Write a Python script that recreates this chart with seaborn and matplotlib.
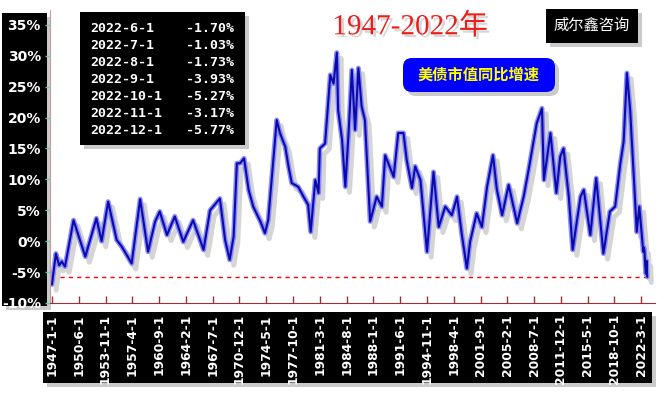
import matplotlib
matplotlib.use("Agg")
import matplotlib.pyplot as plt
import matplotlib.patheffects as pe
import matplotlib.transforms as mtransforms
from matplotlib.patches import FancyBboxPatch
import pandas as pd
import seaborn as sns

# values (month, yoy %)
dates = ["1947-1", "1947-7", "1947-12", "1948-4", "1948-9", "1949-10", "1951-4", "1952-9",
         "1953-5", "1954-3", "1955-4", "1955-12", "1957-3", "1958-4", "1959-4", "1960-3",
         "1960-10", "1961-9", "1962-9", "1963-10", "1965-1", "1966-5", "1967-3", "1968-6",
         "1969-2", "1969-9", "1970-3", "1970-8", "1971-1", "1971-7", "1972-2", "1972-9",
         "1973-8", "1974-3", "1974-8", "1975-9", "1976-2", "1976-10", "1977-3", "1977-8",
         "1978-6", "1979-2", "1979-9", "1980-1", "1980-8", "1981-1", "1981-3", "1981-11",
         "1982-7", "1982-12", "1983-5", "1983-7", "1984-1", "1984-6", "1984-11", "1985-4",
         "1985-9", "1986-2", "1986-7", "1986-12", "1987-8", "1988-6", "1989-2", "1989-7",
         "1990-8", "1991-3", "1991-11", "1992-4", "1992-12", "1993-5", "1994-1", "1994-11",
         "1995-9", "1996-5", "1997-3", "1998-1", "1998-9", "1999-4", "1999-12", "2000-5",
         "2001-3", "2001-11", "2002-7", "2003-4", "2003-10", "2004-6", "2005-4", "2005-12",
         "2006-5", "2007-3", "2007-11", "2008-11", "2009-7", "2009-10", "2010-8", "2011-5",
         "2011-11", "2012-4", "2012-12", "2013-6", "2014-6", "2014-11", "2015-9", "2016-6",
         "2017-5", "2018-3", "2018-11", "2019-7", "2019-12", "2020-5", "2020-10", "2021-6",
         "2021-8", "2021-12", "2022-6", "2022-7", "2022-8", "2022-9", "2022-10", "2022-11",
         "2022-12"]
values = [-7.0, -2.0, -3.9, -3.3, -4.1, 3.4, -2.5, 3.7,
          0.0, 6.4, 0.2, -0.9, -3.6, 6.8, -1.7, 3.2,
          4.8, 1.0, 4.0, -0.1, 3.4, -1.4, 5.0, 6.9,
          0.2, -3.0, 0.7, 12.6, 12.6, 13.4, 8.3, 5.6,
          3.2, 1.3, 3.4, 19.6, 17.5, 15.3, 12.1, 9.4,
          8.8, 7.2, 5.9, 1.5, 9.9, 7.8, 15.0, 15.8,
          26.9, 25.5, 30.5, 21.2, 16.4, 8.8, 17.5, 27.7,
          18.0, 28.0, 21.8, 19.6, 3.2, 7.2, 5.6, 13.9,
          10.4, 17.5, 17.5, 13.1, 8.6, 12.1, 9.9, -1.7,
          11.2, 2.3, 5.6, 4.2, 7.2, 1.3, -4.4, -0.1,
          4.5, 2.3, 8.8, 13.9, 8.3, 4.2, 9.1, 5.3,
          2.9, 7.2, 11.8, 19.1, 21.5, 9.9, 17.5, 7.8,
          13.7, 15.0, 7.2, -1.4, 7.2, 8.3, 1.0, 10.2,
          -2.0, 4.8, 5.6, 12.6, 16.1, 27.2, 21.2, 5.6,
          1.5, 5.6, -1.70, -1.03, -1.73, -3.93, -5.27, -3.17,
          -5.77]

tick_labels = ["1947-1-1", "1950-6-1", "1953-11-1", "1957-4-1", "1960-9-1", "1964-2-1",
               "1967-7-1", "1970-12-1", "1974-5-1", "1977-10-1", "1981-3-1", "1984-8-1",
               "1988-1-1", "1991-6-1", "1994-11-1", "1998-4-1", "2001-9-1", "2005-2-1",
               "2008-7-1", "2011-12-1", "2015-5-1", "2018-10-1", "2022-3-1"]
y_ticks = [-10, -5, 0, 5, 10, 15, 20, 25, 30, 35]

table_dates = ["2022-6-1", "2022-7-1", "2022-8-1", "2022-9-1", "2022-10-1", "2022-11-1", "2022-12-1"]
table_values = values[-7:]


def month_index(s):
    parts = s.split("-")
    return (int(parts[0]) - 1947) * 12 + int(parts[1]) - 1


df = pd.DataFrame({"m": [month_index(d) for d in dates], "v": values})
tick_pos = [month_index(t) for t in tick_labels]

sns.set_style("white")
plt.rcParams["font.family"] = ["DejaVu Sans", "Noto Sans CJK SC"]

W, H = 666, 397
fig = plt.figure(figsize=(W / 100, H / 100), dpi=100)
px = mtransforms.Affine2D().scale(1 / fig.dpi) + fig.dpi_scale_trans


def box(x0, y0, x1, y1, color, z, style="square,pad=0", shadow=True):
    # pixel box (top-left origin) with a soft grey drop shadow
    if shadow:
        fig.patches.append(FancyBboxPatch((x0 + 4, H - y1 - 4), x1 - x0, y1 - y0, boxstyle=style,
                                          transform=px, fc="#a8a8a8", ec="none", alpha=0.6, zorder=z - 0.1))
    fig.patches.append(FancyBboxPatch((x0, H - y1), x1 - x0, y1 - y0, boxstyle=style,
                                      transform=px, fc=color, ec="none", zorder=z))


# black panels behind the tick labels
box(2, 13, 47, 306, "black", -5)
box(43, 312, 652, 383, "black", -5)

ax = fig.add_axes([50 / W, (H - 303) / H, 605 / W, 293 / H])
ax.set_facecolor("white")

glow = sns.lineplot(data=df, x="m", y="v", ax=ax, color="#7a7aff", lw=3.6, alpha=0.85)
glow.lines[0].set_path_effects([pe.SimpleLineShadow(offset=(3, -4), shadow_color="#777777", alpha=0.3),
                                pe.Normal()])
sns.lineplot(data=df, x="m", y="v", ax=ax, color="#0a0aa8", lw=1.5)

# red dotted reference line at the latest value
ax.hlines(values[-1], 12, 908, colors="red", linestyles=(0, (3, 3)), lw=1)

ax.set_xlim(-3, 923)
ax.set_ylim(-10, 37.4)
ax.set_xlabel("")
ax.set_ylabel("")
ax.set_yticks(y_ticks)
ax.set_yticklabels([f"{t}%" for t in y_ticks], color="white", fontsize=10, fontweight="bold")
ax.set_xticks(tick_pos)
ax.set_xticklabels(tick_labels, rotation=90, color="white", fontsize=8.8, fontweight="bold",
                   va="top", ha="center")
ax.tick_params(axis="y", direction="out", length=3.5, width=1, color="#66cccc", pad=3, left=True)
ax.tick_params(axis="x", direction="in", length=5, width=1, color="#993333", pad=8, bottom=True)
for s in ["top", "right"]:
    ax.spines[s].set_visible(False)
ax.spines["left"].set_color("#cc9999")
ax.spines["bottom"].set_color("#993333")

# data table in the top-left corner
box(80, 12, 245, 145, "black", 5)
for i, (d, v) in enumerate(zip(table_dates, table_values)):
    y = 29 + i * 16.9
    fig.text(90, H - y, d, transform=px, color="white", fontsize=9.5, fontweight="bold",
             family="DejaVu Sans Mono", va="center", ha="left", zorder=6)
    fig.text(234, H - y, f"{v:.2f}%", transform=px, color="white", fontsize=9.5, fontweight="bold",
             family="DejaVu Sans Mono", va="center", ha="right", zorder=6)

# title
fig.text(410, H - 27, "1947-2022年", transform=px, color="#e8201c", fontsize=21,
         family=["Liberation Serif", "Noto Sans CJK SC"], ha="center", va="center", zorder=6,
         path_effects=[pe.SimplePatchShadow(offset=(2, -2), shadow_rgbFace="#999999", alpha=0.4), pe.Normal()])

# company badge
box(546, 9, 638, 43, "black", 5)
fig.text(592, H - 25, "威尔鑫咨询", transform=px, color="white", fontsize=11,
         family=["Noto Sans CJK SC"], ha="center", va="center", zorder=6)

# series label
box(408, 63, 550, 87, "#0000ff", 5, style="round,pad=5,rounding_size=9")
fig.text(479, H - 75, "美债市值同比增速", transform=px, color="#ffff00", fontsize=11,
         fontweight="bold", family=["Noto Sans CJK SC"], ha="center", va="center", zorder=6)

plt.savefig("out.png", dpi=100)
plt.close()
